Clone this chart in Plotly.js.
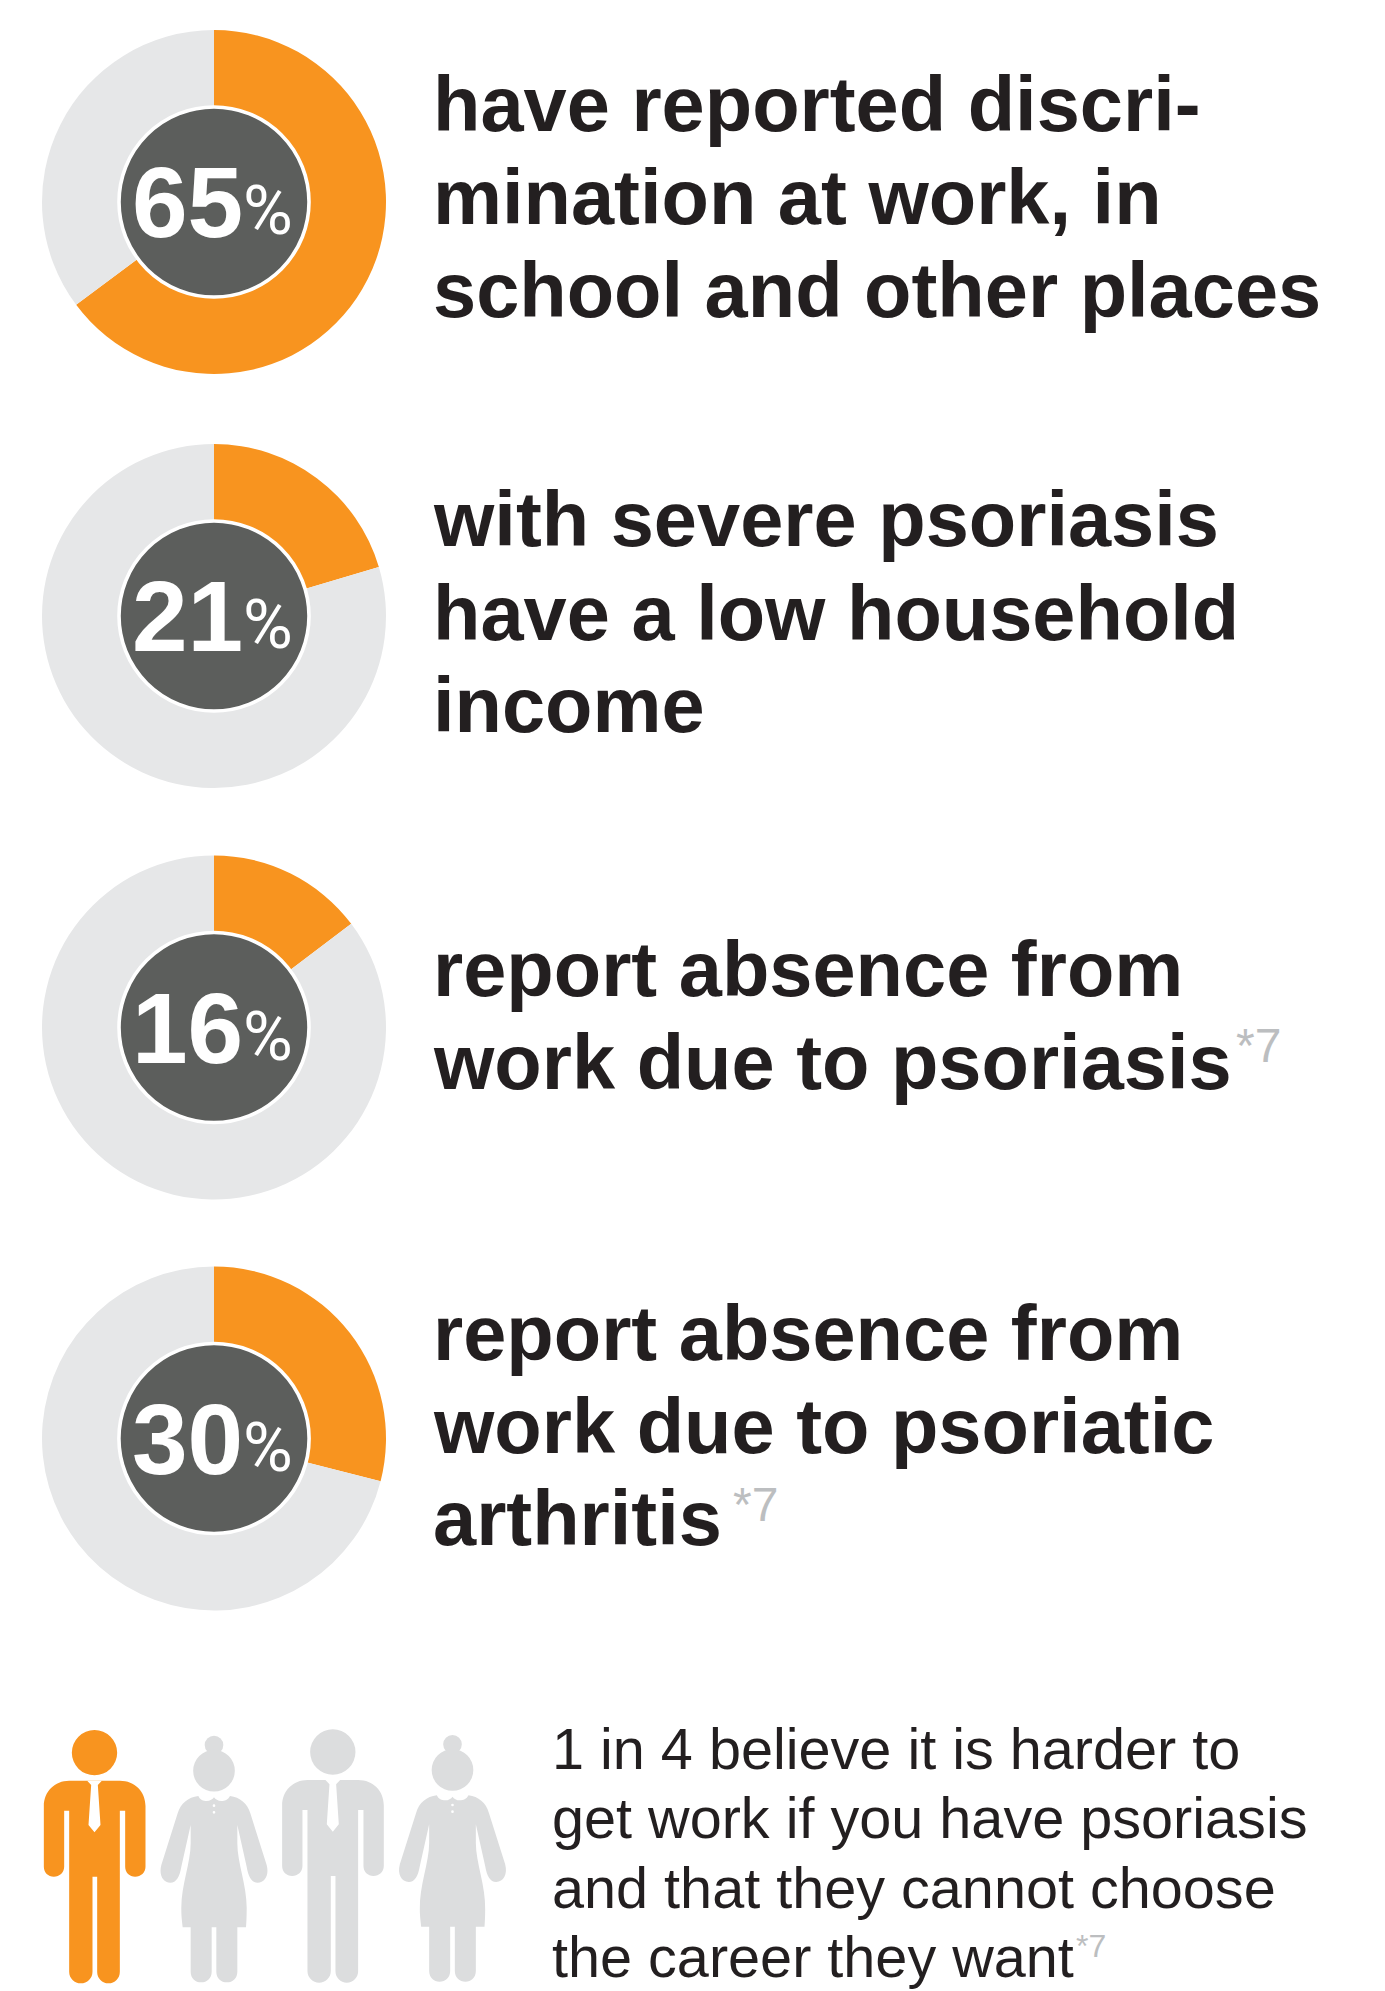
<!DOCTYPE html>
<html><head><meta charset="utf-8">
<script src="https://cdn.plot.ly/plotly-3.0.1.min.js"></script>
<style>html,body{margin:0;padding:0;background:#fff}</style></head>
<body><div id="chart" style="width:1385px;height:1991px"></div>
<script>
const W = 1385, H = 1991;
// Arc shares as drawn in the picture (percent of circle)
const percentLabels = ["65", "21", "16", "30"];
const orangeShare = [64.8, 20.4, 14.7, 29];
const greyShare = [35.2, 79.6, 85.3, 71];
const donutCentreY = [202, 616, 1027.5, 1438.5];
const donutCentreX = 214;

const headingLines = [
  ["have reported discri-", "mination at work, in", "school and other places"],
  ["with severe psoriasis", "have a low household", "income"],
  ["report absence from", "work due to psoriasis"],
  ["report absence from", "work due to psoriatic", "arthritis"]
];
const headingBaselines = [
  [131, 224, 316.6],
  [546, 639.5, 732],
  [996, 1089],
  [1359.5, 1452.5, 1544.5]
];
const headingMarks = [["*7", 1236, 1062.5], ["*7", 733, 1521]];

const bodyLines = ["1 in 4 believe it is harder to", "get work if you have psoriasis", "and that they cannot choose", "the career they want"];
const bodyBaselines = [1769, 1838, 1907.7, 1976.7];

const people = ["man", "woman", "man", "woman"];
const highlighted = [true, false, false, false];
const peopleCentreX = [94.5, 214, 332.8, 452.5];
const peopleShiftY = [0, 0, -0.7, -0.7];

const ORANGE = "#f8941f", GREY = "#e6e7e8", DARK = "#5c5e5c", INK = "#231f20", MUTED = "#bcbec0", FIGURE = "#dcddde";
const SANS = "Liberation Sans";
const HEAD_SIZE = 77.6, BODY_SIZE = 57.6;

const px = x => x / W, py = y => 1 - y / H;
const annotations = [], shapes = [], traces = [];

function label(text, x, base, size, color, weight, anchor, family) {
  annotations.push({
    text, xref: "paper", yref: "paper", x: px(x), y: py(base - 0.3465 * size),
    xanchor: anchor || "left", yanchor: "middle", showarrow: false, borderpad: 0, borderwidth: 0,
    font: { family: family || SANS, size, color, weight: weight || 400 }
  });
}

const R = 172, RING = 95;
donutCentreY.forEach((cy, i) => {
  traces.push({
    type: "pie", values: [orangeShare[i], greyShare[i]], sort: false, direction: "clockwise", rotation: 0,
    hole: 0.5, textinfo: "none", hoverinfo: "skip", showlegend: false,
    marker: { colors: [ORANGE, GREY], line: { width: 0 } },
    domain: { x: [px(donutCentreX - R), px(donutCentreX + R)], y: [py(cy + R), py(cy - R)] }
  });
  traces.push({
    type: "pie", values: [1], sort: false, textinfo: "none", hoverinfo: "skip", showlegend: false,
    marker: { colors: [DARK], line: { width: 3.6, color: "#ffffff" } },
    domain: { x: [px(donutCentreX - RING), px(donutCentreX + RING)], y: [py(cy + RING), py(cy - RING)] }
  });
  label(percentLabels[i], 243, cy + 35, 100, "#ffffff", 700, "right");
  label("%", 243, cy + 33, 68, "#ffffff", 400, "left", "Roboto");
});

headingLines.forEach((lines, i) => lines.forEach((t, j) => label(t, 433, headingBaselines[i][j], HEAD_SIZE, INK, 700)));
headingMarks.forEach(m => label(m[0], m[1], m[2], 48, MUTED, 400));
bodyLines.forEach((t, j) => label(t, 552, bodyBaselines[j], BODY_SIZE, INK, 400));
label("*7", 1076, 1957, 32, MUTED, 400);

// Pictogram outlines, in 3x units; placed around each figure's centre
const manBody = "M 118,152 L 270,152 C 315,152 347,185 347,228 L 347,410 C 347,427 333,440 316,440 C 299,440 286,427 286,410 L 286,242 L 270,242 L 270,725 C 270,745 255,760 236,760 C 217,760 202,745 202,725 L 202,440 L 188,440 L 188,725 C 188,745 172,760 153,760 C 134,760 118,745 118,725 L 118,242 L 103,242 L 103,410 C 103,427 89,440 72,440 C 55,440 42,427 42,410 L 42,228 C 42,185 75,152 118,152 Z";
const manTie = "M 172,152 L 216,152 L 204,165 L 212,285 L 194,307 L 176,285 L 184,165 Z";
const womanBody = "M 145,198 C 150,210 160,213 170,213 C 180,213 188,208 192,202 C 196,208 204,213 214,213 C 224,213 234,210 240,198 C 270,202 292,220 301,250 L 350,405 C 358,435 345,458 323,458 C 305,458 295,440 290,410 L 262,285 L 262,340 C 262,400 292,470 290,540 C 290,560 289,580 288,592 L 262,592 L 262,725 C 262,745 248,757 231,757 C 213,757 199,745 199,725 L 199,592 L 185,592 L 185,725 C 185,745 171,757 153,757 C 136,757 122,745 122,725 L 122,592 L 98,592 C 96,570 94,560 94,540 C 92,470 122,400 122,340 L 122,285 L 94,410 C 89,440 79,458 61,458 C 39,458 26,435 34,405 L 83,250 C 92,220 114,202 145,198 Z";

function placed(path, ox, cx0, oy) {
  return path.replace(/(-?[\d.]+),(-?[\d.]+)/g, (m, a, b) =>
    px(ox + (a - cx0) / 3).toFixed(6) + "," + py(oy + b / 3).toFixed(6));
}
function pathShape(path, color) {
  shapes.push({ type: "path", xref: "paper", yref: "paper", path, fillcolor: color, line: { width: 0 } });
}
function dot(x, y, r, color) {
  shapes.push({ type: "circle", xref: "paper", yref: "paper", x0: px(x - r), x1: px(x + r), y0: py(y + r), y1: py(y - r), fillcolor: color, line: { width: 0 } });
}
people.forEach((kind, i) => {
  const c = highlighted[i] ? ORANGE : FIGURE, ox = peopleCentreX[i], oy = 1730 + peopleShiftY[i];
  if (kind === "man") {
    dot(ox, oy + 68 / 3, 68 / 3, c);
    pathShape(placed(manBody, ox, 194, oy), c);
    pathShape(placed(manTie, ox, 194, oy), "#ffffff");
  } else {
    dot(ox, oy + 45 / 3, 28 / 3, c);
    dot(ox, oy + 122 / 3, 62.5 / 3, c);
    pathShape(placed(womanBody, ox, 192, oy), c);
    dot(ox, oy + 227 / 3, 4 / 3, "#ffffff");
    dot(ox, oy + 247 / 3, 4 / 3, "#ffffff");
  }
});

Plotly.newPlot("chart", traces, {
  width: W, height: H, margin: { l: 0, r: 0, t: 0, b: 0 },
  paper_bgcolor: "#ffffff", plot_bgcolor: "#ffffff", showlegend: false,
  annotations, shapes
}, { displayModeBar: false, staticPlot: true });
</script></body></html>
